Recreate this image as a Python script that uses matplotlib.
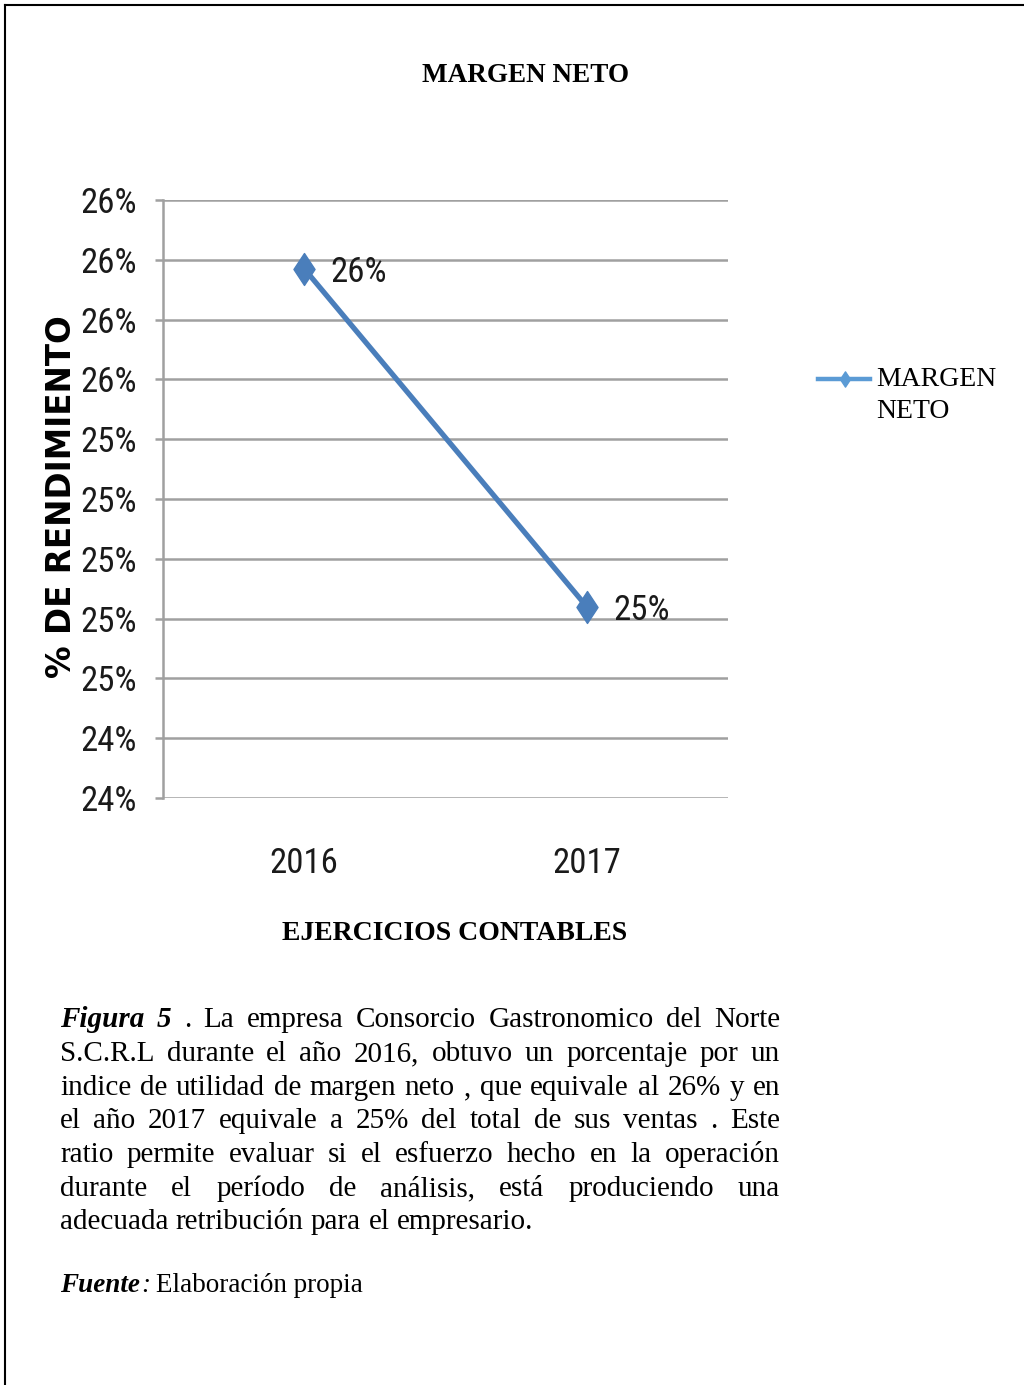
import matplotlib
matplotlib.use("Agg")
import matplotlib.pyplot as plt
import matplotlib.font_manager as fm
from matplotlib.ticker import PercentFormatter, MultipleLocator
from matplotlib.lines import Line2D
from matplotlib.path import Path

# ---- data ----
years = ["2016", "2017"]
margen_neto = [0.2597, 0.2484]
data_labels = ["26%", "25%"]
y_min, y_max, y_step = 0.242, 0.262, 0.002

title = "MARGEN NETO"
x_title = "EJERCICIOS CONTABLES"
y_title = "% DE RENDIMIENTO"
legend_label = "MARGEN\nNETO"

caption_lines = [
    [("Figura", "bi"), ("5", "bi"), (".", "r"), ("La", "r"), ("empresa", "r"), ("Consorcio", "r"),
     ("Gastronomico", "r"), ("del", "r"), ("Norte", "r")],
    "S.C.R.L durante el año 2016, obtuvo un porcentaje por un",
    "indice de utilidad de margen neto , que equivale al 26% y en",
    "el año 2017 equivale a 25% del total de sus ventas .  Este",
    "ratio permite evaluar si el esfuerzo hecho en la operación",
    "durante el período de análisis, está produciendo una",
    "adecuada retribución para el empresario.",
]

W, H = 1024, 1385
fig = plt.figure(figsize=(W / 100, H / 100), dpi=100)
fig.patch.set_facecolor("white")


def fx(x):
    return x / W


def fy(y):
    return 1 - y / H


# ---- pick a condensed sans font if one is installed ----
def pick_narrow():
    pref = ["Liberation Sans Narrow", "Roboto Condensed", "Open Sans Condensed",
            "DejaVu Sans Condensed", "Noto Sans Condensed"]
    entries = fm.fontManager.ttflist
    for p in pref:
        for f in entries:
            if f.name == p and f.style == "normal" and f.weight in (400, "normal", "regular"):
                return fm.FontProperties(fname=f.fname)
    for f in entries:
        st = str(f.stretch)
        if (st in ("condensed", "semi-condensed", "extra-condensed")
                or "Condensed" in f.fname or "Narrow" in f.fname):
            if f.style == "normal" and f.weight in (400, "normal", "regular") \
                    and "Mono" not in f.fname and "Serif" not in f.fname:
                return fm.FontProperties(fname=f.fname)
    return fm.FontProperties(family="Liberation Sans")


NARROW_FP = pick_narrow()

SERIF = ["Liberation Serif", "DejaVu Serif"]
LINE_C = "#4A7EBB"
GRID_C = "#A0A0A0"
TXT_C = "#1a1a1a"
TICK_FS = 25


def narrow_fp(size):
    fp = NARROW_FP.copy()
    fp.set_size(size)
    return fp


# page border
fig.add_artist(Line2D([fx(5), fx(5)], [fy(5), fy(1385)], color="black", lw=1.5))
fig.add_artist(Line2D([fx(5), fx(1024)], [fy(5), fy(5)], color="black", lw=1.5))

# axes
L, R, T, B = 163, 728, 200, 798
ax = fig.add_axes([fx(L), fy(B), (R - L) / W, (B - T) / H])
xi = list(range(len(years)))
diamond = Path([(0, 1), (0.66, 0), (0, -1), (-0.66, 0), (0, 1)],
               [Path.MOVETO, Path.LINETO, Path.LINETO, Path.LINETO, Path.CLOSEPOLY])
ax.plot(xi, margen_neto, color=LINE_C, lw=3.8, marker=diamond, markersize=23,
        markerfacecolor=LINE_C, markeredgecolor=LINE_C, solid_capstyle="butt", zorder=3)
for xv, yv, lab in zip(xi, margen_neto, data_labels):
    ax.annotate(lab, (xv, yv), xytext=(19, -3), textcoords="offset points",
                ha="left", va="center", fontproperties=narrow_fp(TICK_FS), color=TXT_C)

ax.set_xlim(-0.5, len(years) - 0.5)
ax.set_ylim(y_min, y_max)
ax.yaxis.set_major_locator(MultipleLocator(y_step))
ax.yaxis.set_major_formatter(PercentFormatter(1.0, decimals=0))
ax.set_xticks(xi)
ax.set_xticklabels(years)
ax.grid(axis="y", color=GRID_C, lw=1.8)
ax.set_axisbelow(True)
for s in ["top", "right", "bottom"]:
    ax.spines[s].set_visible(False)
ax.spines["left"].set_color(GRID_C)
ax.spines["left"].set_linewidth(1.8)
ax.tick_params(axis="y", length=6, width=1.8, color=GRID_C, pad=13, labelcolor=TXT_C)
ax.tick_params(axis="x", length=0, pad=35, labelcolor=TXT_C)
for lab in ax.get_yticklabels() + ax.get_xticklabels():
    lab.set_fontproperties(narrow_fp(TICK_FS))

ax.set_xlabel(x_title, fontsize=20, fontweight="bold", family=SERIF)
ax.xaxis.set_label_coords((455 - L) / (R - L), (B - 934) / (B - T))
ax.xaxis.label.set_va("center")
ax.set_ylabel(y_title, fontsize=23.5, fontweight="heavy", family=["DejaVu Sans"])
ax.yaxis.set_label_coords((62 - L) / (R - L), (B - 497) / (B - T))
ax.yaxis.label.set_va("center")

# title
fig.text(fx(526), fy(76), title, ha="center", va="center", fontsize=19.5,
         fontweight="bold", family=SERIF)

# legend (manual)
fig.add_artist(Line2D([fx(818), fx(870)], [fy(379), fy(379)], color="#5B9BD5", lw=3.2))
fig.add_artist(Line2D([fx(845)], [fy(379)], color="#5B9BD5", marker=diamond, markersize=11,
                      markeredgecolor="#5B9BD5"))
fig.text(fx(876), fy(379), legend_label.split("\n")[0], ha="left", va="center",
         fontsize=20, family=SERIF)
fig.text(fx(876), fy(411), legend_label.split("\n")[1], ha="left", va="center",
         fontsize=20, family=SERIF)

# caption (justified)
fig.canvas.draw()
renderer = fig.canvas.get_renderer()
CAP_FS = 21
left_x, right_x = 60, 780
baselines = [1027, 1061, 1095, 1128, 1162, 1196, 1229]


def make_word(word, style, y, fs=CAP_FS):
    kw = dict(fontsize=fs, family=SERIF, va="baseline", ha="left")
    if style == "bi":
        kw.update(fontweight="bold", fontstyle="italic")
    elif style == "i":
        kw.update(fontstyle="italic")
    return fig.text(0, fy(y), word, **kw)


for i, (line, yb) in enumerate(zip(caption_lines, baselines)):
    if isinstance(line, str):
        words = [(w, "r") for w in line.split()]
    else:
        words = line
    texts = [make_word(w, s, yb) for w, s in words]
    widths = [t.get_window_extent(renderer).width for t in texts]
    last = i == len(caption_lines) - 1
    if last:
        gap = CAP_FS * 100 / 72 * 0.25
    else:
        gap = (right_x - left_x - sum(widths)) / (len(words) - 1)
    x = left_x
    for t, w in zip(texts, widths):
        t.set_x(fx(x))
        x += w + gap

# fuente
SRC_FS = 19.5
t1 = make_word("Fuente", "bi", 1292, SRC_FS)
t1.set_x(fx(60))
w1 = t1.get_window_extent(renderer).width
t2 = make_word(":", "i", 1292, SRC_FS)
t2.set_x(fx(60 + w1 + 1))
w2 = t2.get_window_extent(renderer).width
t3 = make_word("Elaboración propia", "r", 1292, SRC_FS)
t3.set_x(fx(60 + w1 + 1 + w2 + 6))

fig.savefig("out.png", dpi=100, facecolor="white")
